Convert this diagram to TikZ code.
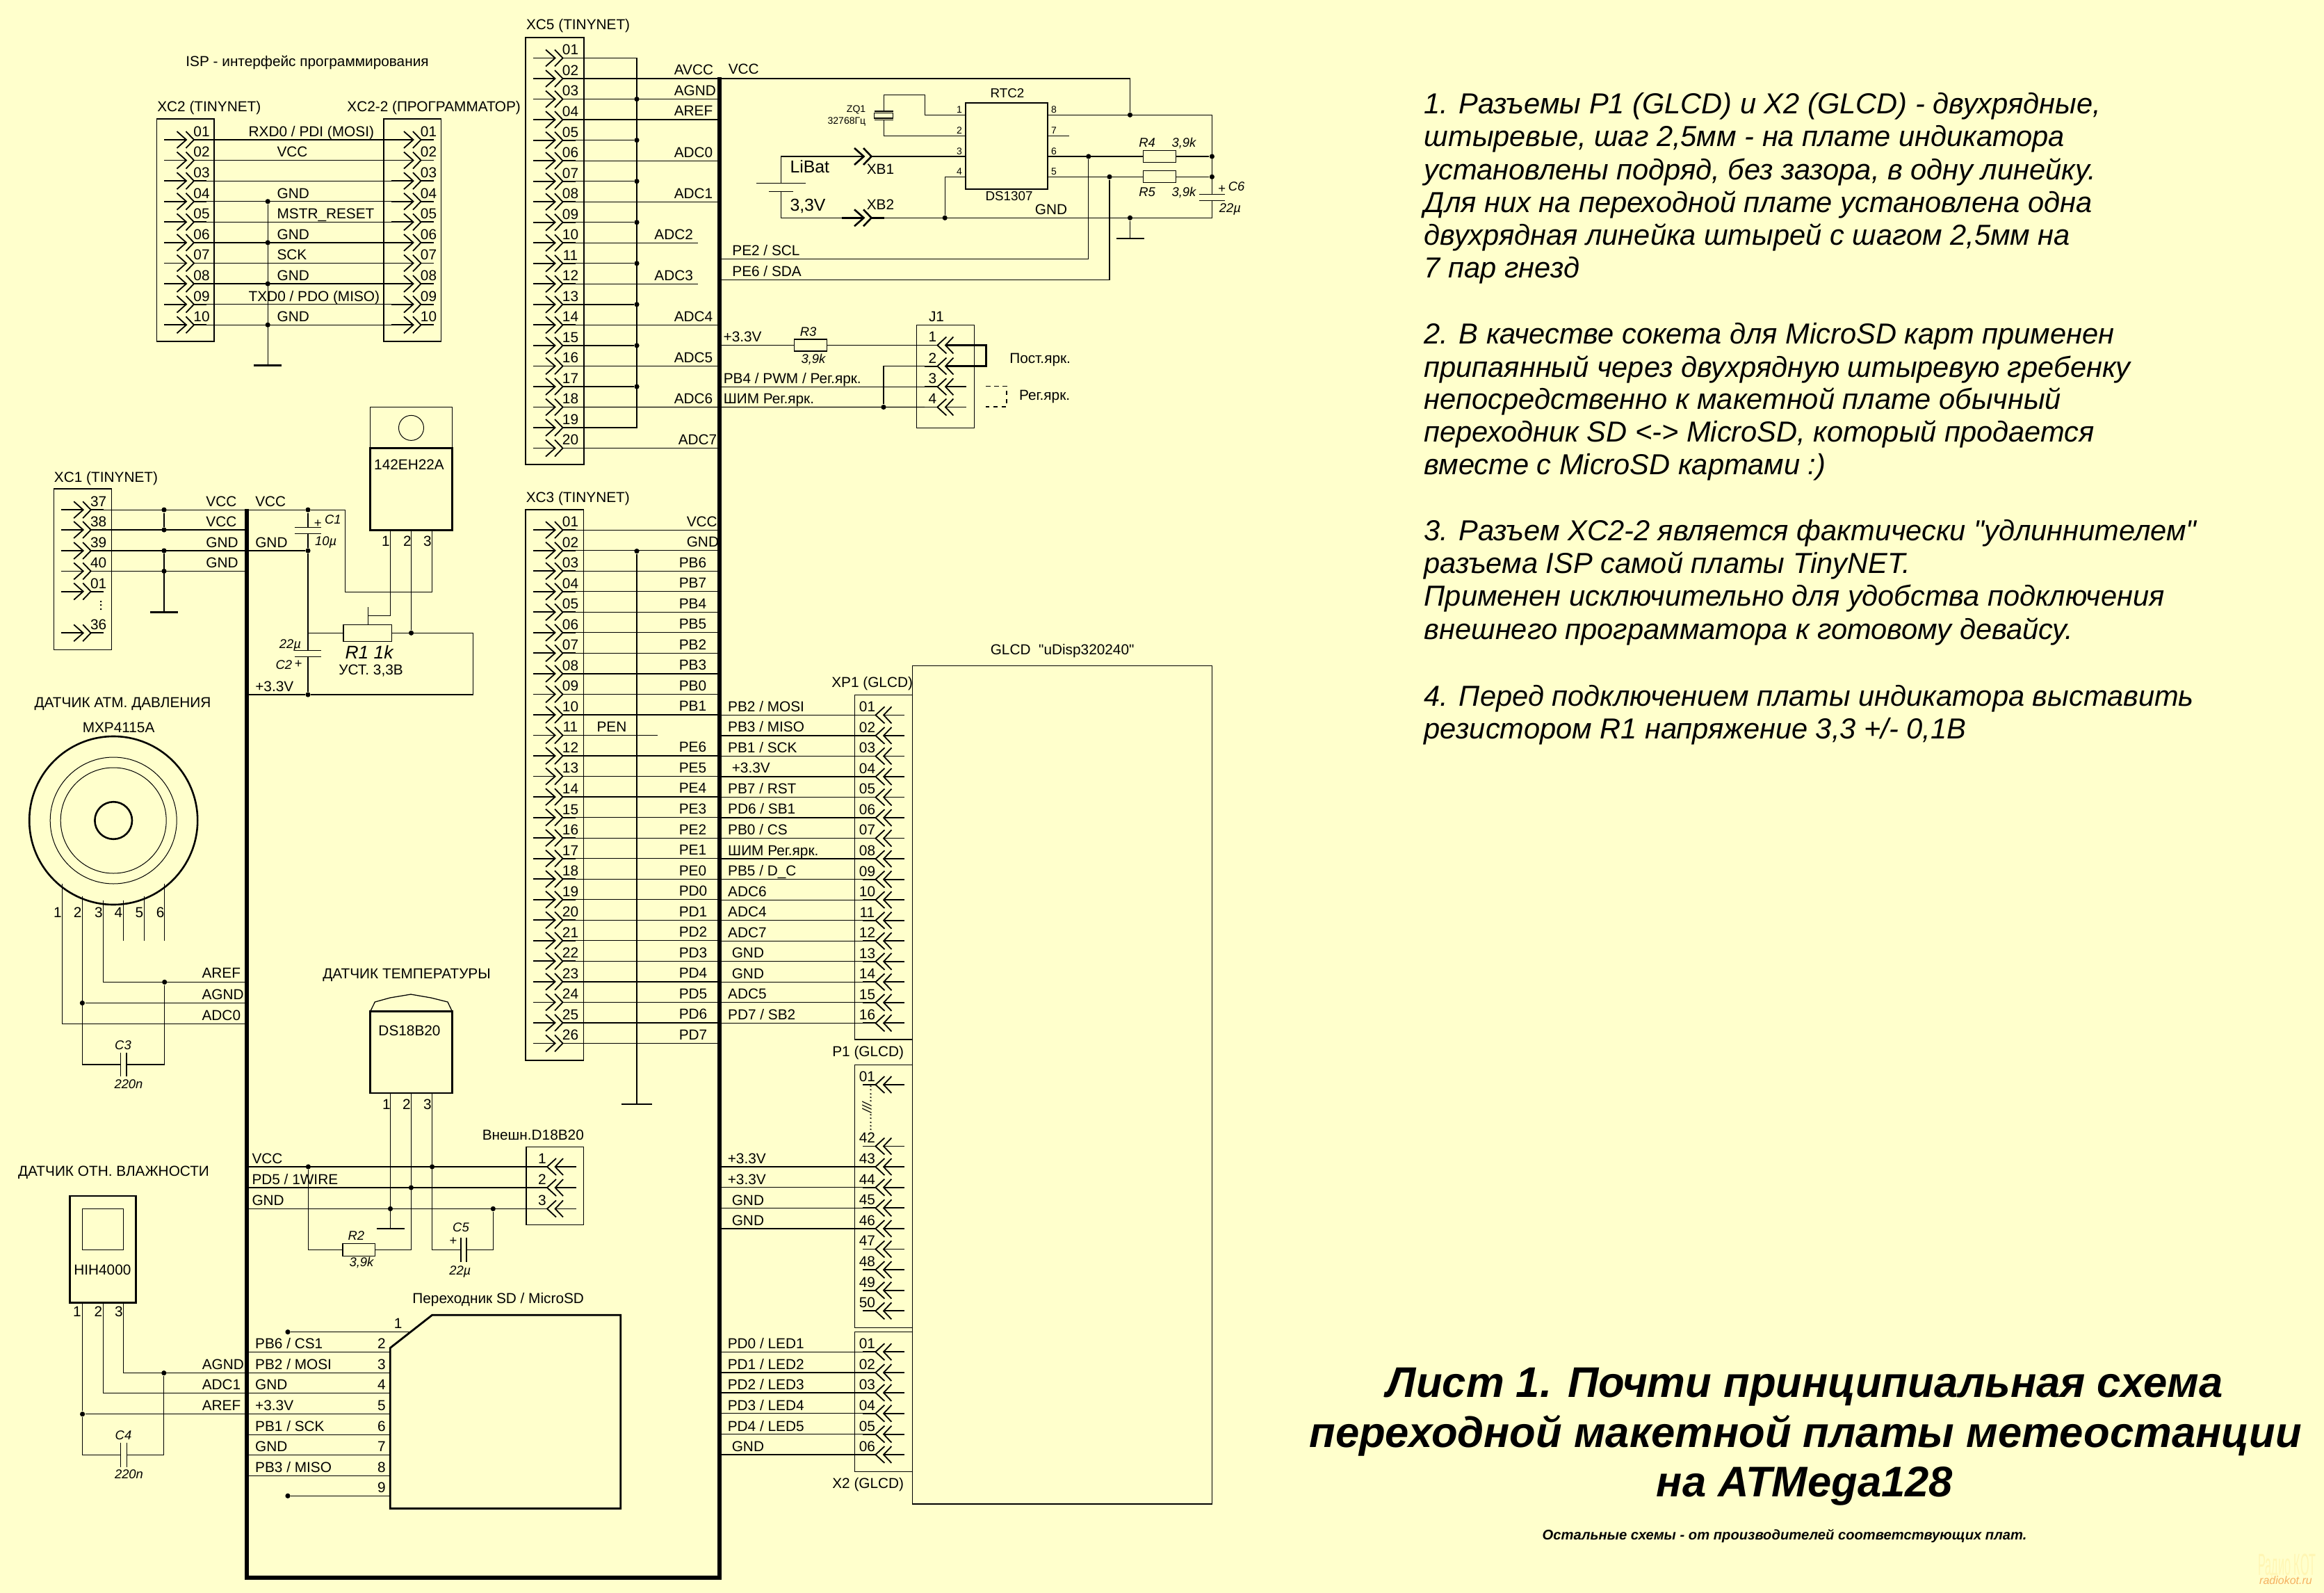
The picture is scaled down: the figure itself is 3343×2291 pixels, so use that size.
\documentclass[tikz,border=0pt]{standalone}
\usepackage{fontspec}
\defaultfontfeatures[\rmfamily]{}
\setmainfont{Liberation Sans}
\usetikzlibrary{positioning,calc}

\definecolor{paper}{HTML}{FFFFCC}
\definecolor{wmpale}{HTML}{FFF6B4}
\definecolor{wmorange}{HTML}{F5B060}

\tikzset{
    wire/.style={draw=black,line width=0.32pt},
    pinline/.style={draw=black,line width=0.45pt},
    bus/.style={draw=black,line width=1.5pt,line cap=butt},
    heavy/.style={draw=black,line width=0.7pt},
    thinbox/.style={draw=black,line width=0.32pt,inner sep=0pt,outer sep=0pt},
    boldbox/.style={draw=black,line width=0.7pt,inner sep=0pt,outer sep=0pt},
    junction/.style={circle,fill=black,inner sep=0pt,minimum size=1.8pt},
    lab/.style={font=\fontsize{5.2}{6}\selectfont,inner sep=0pt,text height=3.7pt,text depth=0pt,anchor=west},
    cen/.style={lab,anchor=center},
    chipname/.style={font=\fontsize{4.7}{6}\selectfont,inner sep=0pt,text height=3.4pt,text depth=0pt,anchor=center},
    tiny/.style={font=\fontsize{3.5}{4}\selectfont,inner sep=0pt,text height=2.5pt,text depth=0pt,anchor=center},
    val/.style={font=\fontsize{4.6}{5}\itshape\selectfont,inner sep=0pt,text height=3.3pt,text depth=0pt,anchor=center},
    big/.style={font=\fontsize{6.2}{7}\selectfont,inner sep=0pt,text height=4.4pt,text depth=0pt,anchor=west},
    note/.style={font=\fontsize{10.4}{12}\itshape\selectfont,inner sep=0pt,text height=7.4pt,text depth=0pt,anchor=west},
    headline/.style={font=\fontsize{15.4}{18}\bfseries\itshape\selectfont,inner sep=0pt,text height=11pt,text depth=0pt,anchor=center}
}

% connector pin pointing right: name, box left, row, number
\newcommand{\pinR}[4]{
    \coordinate (#1) at (#2+53.5,#3);
    \coordinate (#1-in) at (#2+10.5,#3);
    \draw[pinline] (#1-in) -- (#2+42.5,#3);
    \draw[pinline] (#2+29,#3-12) -- (#2+42.5,#3) -- (#2+29,#3+12);
    \draw[pinline] (#2+42,#3-12) -- (#2+53.5,#3) -- (#2+42,#3+12);
    \draw[pinline] (#1) -- (#2+71.5,#3);
    \node[cen] (#1-no) at (#2+64.5,#3-12) {#4};
}
% connector pin pointing left: number offset, name, box left, row, number
\newcommand{\pinL}[5][18]{
    \coordinate (#2) at (#3+11.6,#4);
    \coordinate (#2-in) at (#3+41.6,#4);
    \draw[pinline] (#2) -- (#3+30,#4);
    \draw[pinline] (#3+43,#4-12) -- (#3+30,#4) -- (#3+43,#4+12);
    \draw[pinline] (#3+53,#4-12) -- (#2-in) -- (#3+53,#4+12);
    \draw[pinline] (#2-in) -- (#3+71.7,#4);
    \node[cen] (#2-no) at (#3+#1,#4-12) {#5};
}
% box from two corners
\newcommand{\comp}[6][thinbox]{
    \node[#1,minimum width={(#5-#3)*0.25pt},minimum height={(#6-#4)*0.25pt}]
        (#2) at ({(#3+#5)/2},{(#4+#6)/2}) {};
}
\newcommand{\gndbar}[1]{\draw[heavy] ([xshift=-5pt]#1) -- ([xshift=5pt]#1);}
\newcommand{\twodigit}[1]{\ifnum#1<10 0\fi#1}

\begin{document}
\begin{tikzpicture}[x=0.25pt,y=-0.25pt]
    \useasboundingbox (0,0) rectangle (3343,2291);
    \fill[paper] (0,0) rectangle (3343,2291);

    \coordinate (busTR) at (1035,111);
    \coordinate (busTL) at (355,732);
    \coordinate (busBL) at (355,2269);
    \coordinate (busBR) at (1035,2269);

    % ISP
    \node[cen] (ispTitle) at (442,88.4) {ISP - интерфейс программирования};
    \node[lab] (xc2Title) at (225.5,153.3) {XC2 (TINYNET)};
    \node[lab] (xc22Title) at (498.6,153.3) {XC2-2 (ПРОГРАММАТОР)};
    \comp{xc2}{225.5}{171}{308}{491}
    \comp{xc22}{552}{171}{634.7}{491}
    \foreach \n [evaluate=\n as \yy using 201+(\n-1)*29.58] in {1,...,10} {
        \pinR{xc2p\n}{225.5}{\yy}{\twodigit{\n}}
        \pinR{xc22p\n}{552}{\yy}{\twodigit{\n}}
        \draw[wire] (xc2p\n) -- (xc22p\n-in);
    }
    \coordinate (xc2gnd) at (385.2,525.7);
    \foreach \n in {4,6,8,10}
        \node[junction] (xc2j\n) at (xc2p\n -| xc2gnd) {};
    \draw[wire] (xc2j4) -- (xc2gnd);
    \gndbar{xc2gnd}
    \foreach \n/\xx/\t [evaluate=\n as \yy using 189+(\n-1)*29.58] in {1/356.9/{RXD0 / PDI (MOSI)},2/397.8/VCC,4/397.8/GND,5/397.8/{MSTR\_RESET},
        6/397.8/GND,7/397.8/SCK,8/397.8/GND,9/356.9/{TXD0 / PDO (MISO)},10/397.8/GND}
        \node[lab] (ispSig\n) at (\xx,\yy) {\t};

    % XC5
    \node[lab] (xc5Title) at (756.3,34.8) {XC5 (TINYNET)};
    \comp{xc5}{756}{54}{840}{668}
    \foreach \n [evaluate=\n as \yy using 83.5+(\n-1)*29.53] in {1,...,20} {
        \pinR{xc5p\n}{756}{\yy}{\twodigit{\n}}
    }
    \coordinate (xc5com) at (916,83.5);
    \draw[wire] (xc5p1) -- (xc5com) -- (xc5p19 -| xc5com) -- (xc5p19);
    \foreach \n in {3,5,7,9,11,13,15,17} {
        \node[junction] (xc5j\n) at (xc5p\n -| xc5com) {};
        \draw[wire] (xc5p\n) -- (xc5j\n);
    }
    \foreach \n in {3,4,6,8,14,16,20}
        \draw[wire] (xc5p\n) -- (xc5p\n -| busTR);
    \foreach \n in {10,12}
        \draw[wire] (xc5p\n) -- ++(194.5,0);
    \foreach \n/\xx/\t [evaluate=\n as \yy using 71+(\n-1)*29.53] in {2/969/AVCC,3/969/AGND,4/969/AREF,6/969/ADC0,8/969/ADC1,10/940.6/ADC2,
        12/940.6/ADC3,14/969/ADC4,16/969/ADC5,18/969/ADC6,20/975/ADC7}
        \node[lab] (xc5t\n) at (\xx,\yy) {\t};

    % RTC
    \node[lab] (vccTop) at (1047,99.5) {VCC};
    \comp[boldbox,line width=0.5pt]{rtc}{1388.8}{147.7}{1507}{272}
    \node[chipname] (rtcTitle) at (1449,134) {RTC2};
    \node[chipname] (rtcName) at (1451.5,282) {DS1307};
    \foreach \n/\yy/\m in {1/165.3/8,2/195.3/7,3/225/6,4/254.3/5} {
        \coordinate (rtcl\n) at (1388.8,\yy);
        \coordinate (rtcr\m) at (1507,\yy);
        \node[tiny] (rtcnl\n) at (1380,\yy-7.5) {\n};
        \node[tiny] (rtcnr\m) at (1516,\yy-7.5) {\m};
    }
    \node[junction] (vccJ) at (1625.5,165.3) {};
    \coordinate (vccEnd) at (1743.4,165.3);
    \draw[wire] (xc5p2) -- (xc5p2 -| vccJ) -- (vccJ);
    \draw[wire] (rtcr8) -- (vccEnd);
    \coordinate (zqa) at (1330.6,136.3);
    \coordinate (zqb) at (1271.4,136.3);
    \coordinate (zqt) at (1271.4,160);
    \coordinate (zqd) at (1271.4,172.3);
    \draw[wire] (rtcl1) -| (zqa) -- (zqb) -- (zqt);
    \draw[wire] (zqd) |- (rtcl2);
    \draw[wire] ([xshift=-3.4pt]zqt) -- ([xshift=3.4pt]zqt);
    \draw[wire] ([xshift=-3.4pt]zqd) -- ([xshift=3.4pt]zqd);
    \comp{zq}{1257.7}{162.7}{1284.7}{170}
    \node[tiny,anchor=east] (zqName) at (1246,156.7) {ZQ1};
    \node[tiny,anchor=east] (zqFreq) at (1246,173) {32768Гц};
    \draw[wire] (rtcr7) -- ++(30.8,0);
    % battery
    \begin{scope}[pinline/.append style={line width=0.65pt}]
        \pinR{xb1}{1200}{225}{}
        \pinR{xb2}{1200}{313.3}{}
    \end{scope}
    \coordinate (batA) at (1123.5,263.3);
    \coordinate (batB) at (1123.5,275.3);
    \draw[wire] (rtcl3) -- (xb1);
    \draw[wire] (xb1-in) -| (batA);
    \draw[wire] ([xshift=-8.9pt]batA) -- ([xshift=8.9pt]batA);
    \draw[wire] ([xshift=-4.4pt]batB) -- ([xshift=4.4pt]batB);
    \node[big] (libat) at (1135.7,240) {LiBat};
    \node[big] (batV) at (1135.7,294.7) {3,3V};
    \node[cen] (xb1Name) at (1266.5,242.7) {XB1};
    \node[cen] (xb2Name) at (1266.5,294) {XB2};
    % R4 R5 C6
    \comp{r4}{1644.4}{216.5}{1691.3}{233.5}
    \comp{r5}{1644.4}{245.8}{1691.3}{262.8}
    \node[junction] (sclJ) at (1565.8,225) {};
    \node[junction] (sdaJ) at (1596,254.3) {};
    \node[junction] (r4J) at (1743.4,225) {};
    \node[junction] (r5J) at (1743.4,254.3) {};
    \coordinate (c6a) at (1743.4,279.3);
    \coordinate (c6b) at (1743.4,288.3);
    \coordinate (gndEnd) at (1743.4,313.3);
    \node[junction] (bat4J) at (1359.2,313.3) {};
    \node[junction] (rtcGndJ) at (1625.5,313.3) {};
    \coordinate (rtcGnd) at (1625.5,343);
    \draw[wire] (rtcr6) -- (r4.west);
    \draw[wire] (r4.east) -- (r4J);
    \draw[wire] (rtcr5) -- (r5.west);
    \draw[wire] (r5.east) -- (r5J);
    \draw[wire] (vccEnd) -- (c6a);
    \draw[wire] ([xshift=-4.6pt]c6a) -- ([xshift=4.6pt]c6a);
    \draw[wire] ([xshift=-4.6pt]c6b) -- ([xshift=4.6pt]c6b);
    \draw[wire] (c6b) -- (gndEnd) -- (xb2);
    \draw[wire] (xb2-in) -| (batB);
    \draw[wire] (rtcl4) -| (bat4J);
    \draw[wire] (rtcGndJ) -- (rtcGnd);
    \gndbar{rtcGnd}
    \node[val] (r4Name) at (1650,205) {R4};
    \node[val] (r4Val) at (1703,205) {3,9k};
    \node[val] (r5Name) at (1650,276) {R5};
    \node[val] (r5Val) at (1703,276) {3,9k};
    \node[val] (c6Plus) at (1757.6,271) {+};
    \node[val] (c6Name) at (1778.5,268) {C6};
    \node[val] (c6Val) at (1769.5,299) {22µ};
    \node[cen] (rtcGndName) at (1512,301) {GND};
    % I2C
    \coordinate (sclRow) at (1037,372.4);
    \coordinate (sdaRow) at (1037,402.4);
    \draw[wire] (sclRow) -| (sclJ);
    \draw[wire] (sdaRow) -| (sdaJ);
    \node[lab] (sclName) at (1052.6,360.5) {PE2 / SCL};
    \node[lab] (sdaName) at (1052.6,390) {PE6 / SDA};

    % J1
    \node[cen] (j1Title) at (1347,455.4) {J1};
    \comp{j1}{1318.4}{467.3}{1401.5}{615.6}
    \foreach \n/\yy in {1/496.5,2/526.6,3/556.2,4/585.5} {
        \pinL[23]{j1p\n}{1318.4}{\yy}{\n}
    }
    \comp{r3}{1142.3}{488}{1189.3}{505}
    \draw[wire] (j1p1 -| busTR) -- (r3.west);
    \draw[wire] (r3.east) -- (j1p1);
    \node[junction] (j1J) at (1271,585.5) {};
    \draw[wire] (j1p2) -| (j1J);
    \draw[wire] (j1p3 -| busTR) -- (j1p3);
    \draw[wire] (xc5p18) -- (j1p4);
    \coordinate (jumpA) at (1418.4,496.5);
    \coordinate (jumpB) at (1418.4,526.6);
    \draw[heavy] (j1p1-in) -- (jumpA) -- (jumpB) -- (j1p2-in);
    \coordinate (dashA) at (1418.4,555.4);
    \coordinate (dashB) at (1448,555.4);
    \coordinate (dashC) at (1448,585);
    \coordinate (dashD) at (1418.4,585);
    \draw[wire,line width=0.4pt,dash pattern=on 1.6pt off 1.4pt] (dashA) -- (dashB) -- (dashC) -- (dashD);
    \node[lab] (j1Vcc) at (1039.8,484.3) {+3.3V};
    \node[val] (r3Name) at (1162.7,477) {R3};
    \node[val] (r3Val) at (1170,515.5) {3,9k};
    \node[lab] (j1Pwm) at (1040,544.4) {PB4 / PWM / Рег.ярк.};
    \node[lab] (j1Shim) at (1040,573) {ШИМ Рег.ярк.};
    \node[lab] (j1Const) at (1451.5,514.7) {Пост.ярк.};
    \node[lab] (j1Reg) at (1465.3,568) {Рег.ярк.};

    % XC1
    \node[lab] (xc1Title) at (77.2,685.7) {XC1 (TINYNET)};
    \comp{xc1}{77.2}{703}{160.4}{934.5}
    \foreach \n/\yy/\t in {1/733.2/37,2/762/38,3/792/39,4/821.4/40,5/850.6/01,6/910.3/36} {
        \pinR{xc1p\n}{77.2}{\yy}{\t}
    }
    \node[cen,rotate=90] (xc1Dots) at (139,871) {...};
    \coordinate (xc1gnd) at (236,880.7);
    \foreach \n in {1,2,3,4} {
        \node[junction] (xc1j\n) at (xc1p\n -| xc1gnd) {};
        \draw[wire] (xc1p\n) -- (xc1p\n -| busTL);
    }
    \draw[wire] (xc1j1) -- (xc1j2);
    \draw[wire] (xc1j3) -- (xc1gnd);
    \gndbar{xc1gnd}
    \foreach \n/\yy/\t in {1/721.3/VCC,2/749.8/VCC,3/779.8/GND,4/809/GND}
        \node[lab] (xc1t\n) at (295.6,\yy) {\t};
    \node[lab] (vccIn) at (366.5,721.3) {VCC};
    \node[lab] (gndIn) at (366.5,779.8) {GND};
    \node[lab] (v33In) at (366.5,987) {+3.3V};

    % regulator
    \comp{tab}{532.4}{585.3}{650.7}{644.2}
    \comp[boldbox]{reg}{532.4}{644.2}{650.7}{762.6}
    \node[draw,line width=0.25pt,circle,inner sep=0pt,minimum size=9pt] (tabHole) at (591.5,615.4) {};
    \node[cen] (regName) at (588.5,668) {142ЕН22А};
    \foreach \n/\xx/\nx in {1/561.4/555,2/591.5/586,3/621.6/615} {
        \coordinate (regp\n) at (\xx,762.6);
        \node[cen] (regn\n) at (\nx,778.3) {\n};
    }
    \node[junction] (c1Top) at (443,733.2) {};
    \node[junction] (c1Bot) at (443,792) {};
    \node[junction] (c2Bot) at (443,999) {};
    \node[junction] (r1J) at (591.5,910.3) {};
    \coordinate (regBack) at (496.6,851.4);
    \coordinate (c1a) at (443,758.5);
    \coordinate (c1b) at (443,767.2);
    \coordinate (c2a) at (443,935.2);
    \coordinate (c2b) at (443,944.3);
    \coordinate (fbCorner) at (680.3,910.3);
    \comp{r1}{494}{898.4}{563.5}{922.2}
    \draw[wire] (c1Top -| busTL) -- (c1Top) -- (c1Top -| regBack) -- (regBack) -| (regp3);
    \draw[wire] (c1Bot -| busTL) -- (c1Bot);
    \draw[wire] (c1Top) -- (c1a);
    \draw[wire] ([xshift=-4.7pt]c1a) -- ([xshift=4.7pt]c1a);
    \draw[wire] ([xshift=-4.7pt]c1b) -- ([xshift=4.7pt]c1b);
    \draw[wire] (c1b) -- (c1Bot) -- (c2a);
    \draw[wire] ([xshift=-4.7pt]c2a) -- ([xshift=4.7pt]c2a);
    \draw[wire] ([xshift=-4.7pt]c2b) -- ([xshift=4.7pt]c2b);
    \draw[wire] (c2b) -- (c2Bot);
    \draw[wire] (c2Bot -| busTL) -- (c2Bot) -- (c2Bot -| fbCorner) -- (fbCorner) -- (r1.east);
    \draw[wire] (r1.west) -- (r1.west -| c1a);
    \draw[wire] (regp2) -- (r1J);
    \coordinate (wiperTop) at (529.6,873);
    \coordinate (wiperArm) at (529.6,885.8);
    \draw[wire] (wiperTop) -- (wiperTop |- r1.north);
    \draw[wire] (wiperArm) -- (wiperArm -| regp1) -- (regp1);
    \node[val] (c1Plus) at (457,751.4) {+};
    \node[val] (c1Name) at (478.8,747) {C1};
    \node[val] (c1Val) at (468.6,777.5) {10µ};
    \node[val] (c2Val) at (417.5,925.8) {22µ};
    \node[val] (c2Name) at (408.4,955.4) {C2};
    \node[val] (c2Plus) at (429,953.4) {+};
    \node[cen,font=\fontsize{6.6}{7}\itshape\selectfont,text height=4.7pt] (r1Name) at (531,937.6) {R1 1k};
    \node[cen] (r1Note) at (533.6,963.3) {УСТ. 3,3В};

    % pressure sensor
    \node[cen] (presTitle) at (176.5,1010) {ДАТЧИК АТМ. ДАВЛЕНИЯ};
    \node[cen] (presName) at (170.6,1046.4) {MXP4115A};
    \coordinate (presC) at (163.2,1180);
    \draw[line width=0.65pt] (presC) circle (121);
    \draw[line width=0.25pt] (presC) circle (91);
    \draw[line width=0.25pt] (presC) circle (76);
    \draw[line width=0.65pt] (presC) circle (26.8);
    \foreach \n/\xx/\yt/\nx in {1/89.3/1270.9/83,2/118.4/1288.6/111.7,3/148.5/1294.6/141.8,4/177.6/1294.6/170.4,5/207.7/1288.6/200.5,6/236.7/1270.9/230.6} {
        \coordinate (presp\n) at (\xx,\yt);
        \node[cen] (presn\n) at (\nx,1312.4) {\n};
    }
    \coordinate (presStub) at (0,1353);
    \foreach \n in {4,5,6}
        \draw[wire] (presp\n) -- (presp\n |- presStub);
    \coordinate (presRowA) at (355,1412.4);
    \coordinate (presRowG) at (355,1442.5);
    \coordinate (presRowC) at (355,1472.5);
    \coordinate (c3a) at (173.5,1531);
    \coordinate (c3b) at (182,1531);
    \node[junction] (presJa) at (236.7,1412.4) {};
    \node[junction] (presJg) at (118.4,1442.5) {};
    \draw[wire] (presp3) |- (presRowA);
    \draw[wire] (presp1) |- (presRowC);
    \draw[wire] (presp2) -- (presJg |- c3a) -- (c3a);
    \draw[wire] (presJg) -- (presRowG);
    \draw[wire] (presJa) -- (presJa |- c3b) -- (c3b);
    \draw[wire] ([yshift=4.2pt]c3a) -- ([yshift=-4.2pt]c3a);
    \draw[wire] ([yshift=4.2pt]c3b) -- ([yshift=-4.2pt]c3b);
    \node[lab] (presAref) at (289.8,1399.4) {AREF};
    \node[lab] (presAgnd) at (289.8,1430) {AGND};
    \node[lab] (presAdc) at (289.8,1460) {ADC0};
    \node[val] (c3Name) at (177,1503) {C3};
    \node[val] (c3Val) at (185,1558.7) {220n};

    % DS18B20
    \node[cen] (tempTitle) at (585,1400) {ДАТЧИК ТЕМПЕРАТУРЫ};
    \comp[boldbox]{ds}{532.6}{1454.7}{650.5}{1572}
    \draw[wire] (ds.north west) -- (539.3,1441) -- (561,1435) -- (591,1430) -- (620,1435) -- (644,1441) -- (ds.north east);
    \node[chipname,font=\fontsize{5.2}{6}\selectfont] (dsName) at (589,1483) {DS18B20};
    \foreach \n/\xx/\nx in {1/561.5/556,2/591.4/585,3/621.6/615} {
        \coordinate (dsp\n) at (\xx,1572);
        \node[cen] (dsn\n) at (\nx,1588) {\n};
    }
    \node[lab] (extTitle) at (693,1631.7) {Внешн.D18B20};
    \comp{ext}{757}{1649.4}{839.2}{1761.7}
    \foreach \n/\yy in {1/1678,2/1708,3/1738.4} {
        \pinL[23]{extp\n}{757}{\yy}{\n}
    }
    \foreach \n in {1,2,3}
        \draw[wire] (extp\n -| busBL) -- (extp\n);
    \node[junction] (owVccJ) at (443.4,1678) {};
    \node[junction] (owPin3J) at (621.6,1678) {};
    \node[junction] (owDataJ) at (591.4,1708) {};
    \node[junction] (owGndJ) at (561.5,1738.4) {};
    \node[junction] (owC5J) at (709.3,1738.4) {};
    \coordinate (owGnd) at (561.5,1767);
    \comp{r2}{493}{1788.5}{539.2}{1806.3}
    \coordinate (c5a) at (663,1797.4);
    \coordinate (c5b) at (671,1797.4);
    \draw[wire] (dsp1) -- (owGnd);
    \gndbar{owGnd}
    \draw[wire] (dsp2) |- (r2.east);
    \draw[wire] (owVccJ) |- (r2.west);
    \draw[wire] (dsp3) |- (c5a);
    \draw[wire] (owC5J) |- (c5b);
    \draw[wire] ([yshift=4.3pt]c5a) -- ([yshift=-4.3pt]c5a);
    \draw[wire] ([yshift=4.3pt]c5b) -- ([yshift=-4.3pt]c5b);
    \node[lab] (owVcc) at (361.7,1666) {VCC};
    \node[lab] (owData) at (361.7,1696) {PD5 / 1WIRE};
    \node[lab] (owGndName) at (361.7,1726.5) {GND};
    \node[val] (r2Name) at (512.4,1777) {R2};
    \node[val] (r2Val) at (520,1815) {3,9k};
    \node[val] (c5Name) at (663,1765) {C5};
    \node[val] (c5Plus) at (651.7,1784) {+};
    \node[val] (c5Val) at (661.8,1827) {22µ};

    % humidity sensor
    \node[cen] (humTitle) at (163.5,1683.7) {ДАТЧИК ОТН. ВЛАЖНОСТИ};
    \comp[boldbox]{hih}{100.5}{1720}{195.6}{1873.7}
    \comp{hihWin}{118.6}{1738.4}{177.5}{1797.4}
    \node[cen] (hihName) at (147.4,1826) {HIH4000};
    \foreach \n/\xx/\nx in {1/118.6/111,2/148.7/141.3,3/177.5/170.8} {
        \coordinate (hihp\n) at (\xx,1873.7);
        \node[cen] (hihn\n) at (\nx,1885.6) {\n};
    }
    \node[junction] (humJa) at (235.8,1974.6) {};
    \node[junction] (humJb) at (118.6,2033.7) {};
    \coordinate (humAdcRow) at (355,2003.3);
    \coordinate (c4a) at (173.5,2092.3);
    \coordinate (c4b) at (182.2,2092.3);
    \draw[wire] (hihp3) |- (busBL |- humJa);
    \draw[wire] (hihp2) |- (humAdcRow);
    \draw[wire] (hihp1) -- (humJb) -- (humJb -| busBL);
    \draw[wire] (humJb) |- (c4a);
    \draw[wire] (humJa) |- (c4b);
    \draw[wire] ([yshift=4.4pt]c4a) -- ([yshift=-4.4pt]c4a);
    \draw[wire] ([yshift=4.4pt]c4b) -- ([yshift=-4.4pt]c4b);
    \node[lab] (humAgnd) at (290,1962.3) {AGND};
    \node[lab] (humAdc) at (290,1991.4) {ADC1};
    \node[lab] (humAref) at (290,2021) {AREF};
    \node[val] (c4Name) at (177.5,2063.6) {C4};
    \node[val] (c4Val) at (185.5,2120) {220n};

    % SD adapter
    \node[cen] (sdTitle) at (716.7,1866.6) {Переходник SD / MicroSD};
    \coordinate (sdA) at (561.3,1938.5);
    \coordinate (sdB) at (621.6,1891.3);
    \coordinate (sdC) at (892.8,1891.3);
    \coordinate (sdD) at (892.8,2169.4);
    \coordinate (sdE) at (561.3,2169.4);
    \draw[heavy] (sdA) -- (sdB) -- (sdC) -- (sdD) -- (sdE) -- cycle;
    \foreach \n/\yy/\t in {2/1944.6/{PB6 / CS1},3/1974.6/{PB2 / MOSI},4/2003.3/GND,5/2033.7/+3.3V,6/2063.6/{PB1 / SCK},7/2092.3/GND,8/2122.7/{PB3 / MISO}} {
        \coordinate (sd\n) at (561.3,\yy);
        \draw[wire] (sd\n -| busBL) -- (sd\n);
        \node[cen] (sdn\n) at (549,\yy-12.5) {\n};
        \node[lab] (sdt\n) at (366.4,\yy-12.5) {\t};
    }
    \node[junction] (sdDot1) at (414,1915.6) {};
    \node[junction] (sdDot9) at (414,2151.3) {};
    \coordinate (sd1) at (589.4,1915.6);
    \coordinate (sd9) at (561.3,2151.3);
    \draw[wire] (sdDot1) -- (sd1);
    \draw[wire] (sdDot9) -- (sd9);
    \node[cen] (sdn1) at (572.7,1903) {1};
    \node[cen] (sdn9) at (549,2139) {9};

    % XC3 and XP1
    \node[lab] (xc3Title) at (756,714.6) {XC3 (TINYNET)};
    \comp{xc3}{756}{733}{839.2}{1525}
    \foreach \n [evaluate=\n as \yy using 762.2+(\n-1)*29.53] in {1,...,26} {
        \pinR{xc3p\n}{756}{\yy}{\twodigit{\n}}
    }
    \foreach \n in {1,...,10,12,13,...,26}
        \draw[wire] (xc3p\n) -- (xc3p\n -| busTR);
    \draw[wire] (xc3p11) -- ++(136,0);
    \node[junction] (xc3j2) at (916,792.6) {};
    \coordinate (xc3gnd) at (916,1588);
    \draw[wire] (xc3j2) -- (xc3gnd);
    \draw[heavy] ([xshift=-5.6pt]xc3gnd) -- ([xshift=5.6pt]xc3gnd);
    \foreach \n/\xx/\t [evaluate=\n as \yy using 749.7+(\n-1)*29.53] in {1/987/VCC,2/987/GND,3/976/PB6,4/976/PB7,5/976/PB4,6/976/PB5,7/976/PB2,8/976/PB3,
        9/976/PB0,10/976/PB1,11/857.8/PEN,12/976/PE6,13/976/PE5,14/976/PE4,15/976/PE3,16/976/PE2,17/976/PE1,
        18/976/PE0,19/976/PD0,20/976/PD1,21/976/PD2,22/976/PD3,23/976/PD4,24/976/PD5,25/976/PD6,26/976/PD7}
        \node[lab] (xc3t\n) at (\xx,\yy) {\t};

    \node[lab] (glcdTitle) at (1424,934) {GLCD \ "uDisp320240"};
    \comp{glcd}{1312.4}{957.3}{1743.8}{2163}
    \node[lab] (xp1Title) at (1195.5,981) {XP1 (GLCD)};
    \comp{xp1}{1229.5}{999.7}{1312.4}{1495}
    \foreach \n [evaluate=\n as \yy using 1028.4+(\n-1)*29.53] in {1,...,16} {
        \pinL{xp1p\n}{1229.5}{\yy}{\twodigit{\n}}
        \draw[wire] (xp1p\n -| busTR) -- (xp1p\n);
    }
    \foreach \n/\xx/\t [evaluate=\n as \yy using 1015.9+(\n-1)*29.53] in {1/1046.4/{PB2 / MOSI},2/1046.4/{PB3 / MISO},3/1046.4/{PB1 / SCK},4/1052/+3.3V,
        5/1046.4/{PB7 / RST},6/1046.4/{PD6 / SB1},7/1046.4/{PB0 / CS},8/1046.4/{ШИМ Рег.ярк.},9/1046.4/{PB5 / D\_C},
        10/1046.4/ADC6,11/1046.4/ADC4,12/1046.4/ADC7,13/1052/GND,14/1052/GND,15/1046.4/ADC5,16/1046.4/{PD7 / SB2}}
        \node[lab] (xp1t\n) at (\xx,\yy) {\t};

    % P1
    \node[lab] (p1Title) at (1196.5,1512.5) {P1 (GLCD)};
    \comp{p1}{1229.4}{1531.4}{1312.4}{1909.3}
    \pinL{p1p1}{1229.4}{1560}{01}
    \node[cen,rotate=90,font=\fontsize{4.6}{5}\itshape\selectfont,text height=3.3pt] (p1Skip) at (1247,1593) {.....///.....};
    \foreach \n/\k in {42/0,43/1,44/2,45/3,46/4,47/5,48/6,49/7,50/8} {
        \pgfmathsetmacro{\yy}{1648.5+\k*29.6}
        \pinL{p1p\n}{1229.4}{\yy}{\n}
    }
    \foreach \n in {43,44,45,46}
        \draw[wire] (p1p\n -| busTR) -- (p1p\n);
    \foreach \n/\xx/\yy/\t in {43/1046/1666/+3.3V,44/1046/1695.8/+3.3V,45/1052/1726/GND,46/1052/1755/GND}
        \node[lab] (p1t\n) at (\xx,\yy) {\t};

    % X2
    \node[lab] (x2Title) at (1196.5,2133.4) {X2 (GLCD)};
    \comp{x2}{1229.4}{1915.3}{1312.4}{2116.3}
    \foreach \n/\yy/\xx/\t in {1/1944.2/1046/{PD0 / LED1},2/1974/1046/{PD1 / LED2},3/2003/1046/{PD2 / LED3},
        4/2032.8/1046/{PD3 / LED4},5/2062.6/1046/{PD4 / LED5},6/2092/1052/GND} {
        \pinL{x2p\n}{1229.4}{\yy}{\twodigit{\n}}
        \draw[wire] (x2p\n -| busTR) -- (x2p\n);
        \node[lab] (x2t\n) at (\xx,\yy-12) {\t};
    }

    \draw[bus] (busTL) -- (busBL) -- (busBR) -- (busTR);

    % notes
    \foreach \n/\yy/\t in {1/148.8/{1. Разъемы P1 (GLCD) и X2 (GLCD) - двухрядные,},
        2/196/{штыревые, шаг 2,5мм - на плате индикатора},
        3/243.8/{установлены подряд, без зазора, в одну линейку.},
        4/291/{Для них на переходной плате установлена одна},
        5/337.5/{двухрядная линейка штырей с шагом 2,5мм на},
        6/385/{7 пар гнезд},
        7/480/{2. В качестве сокета для MicroSD карт применен},
        8/527.5/{припаянный через двухрядную штыревую гребенку},
        9/574/{непосредственно к макетной плате обычный},
        10/621/{переходник SD <-> MicroSD, который продается},
        11/668/{вместе с MicroSD картами :)},
        12/763/{3. Разъем XC2-2 является фактически "удлиннителем"},
        13/810/{разъема ISP самой платы TinyNET.},
        14/857/{Применен исключительно для удобства подключения},
        15/905/{внешнего программатора к готовому девайсу.},
        16/1000.6/{4. Перед подключением платы индикатора выставить},
        17/1047.5/{резистором R1 напряжение 3,3 +/- 0,1В}}
        \node[note] (note\n) at (2048,\yy) {\t};

    \node[headline] (sheetA) at (2596,1987) {Лист 1. Почти принципиальная схема};
    \node[headline] (sheetB) at (2597,2059.6) {переходной макетной платы метеостанции};
    \node[headline] (sheetC) at (2596,2130) {на ATMega128};
    \node[cen,font=\fontsize{5.05}{6}\bfseries\itshape\selectfont] (sheetNote) at (2567,2207) {Остальные схемы - от производителей соответствующих плат.};

    \node[cen,font=\fontsize{11}{12}\selectfont,text=wmpale,text height=8pt,transform shape,xscale=0.37] (wmName) at (3290,2249) {Радио КОТ};
    \node[cen,font=\fontsize{4}{4}\itshape\selectfont,text=wmorange,text height=2pt] (wmSite) at (3288,2274) {radiokot.ru};
\end{tikzpicture}
\end{document}
